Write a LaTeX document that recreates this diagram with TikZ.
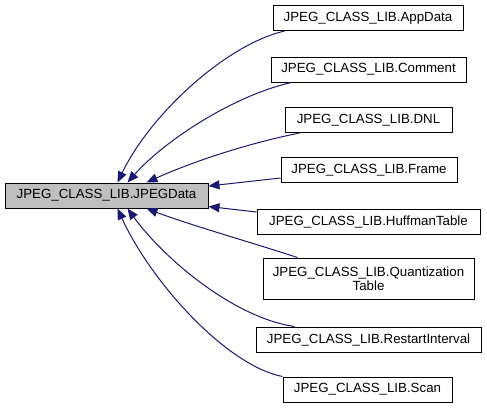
\documentclass[tikz,border=0pt]{standalone}
\usepackage{fontspec}
\setmainfont{Liberation Sans}
\usetikzlibrary{arrows.meta}
\definecolor{edgeblue}{RGB}{25,25,112}
\definecolor{mainfill}{RGB}{191,191,191}
\tikzset{
  classbox/.style={draw=black, line width=1pt, fill=white, inner sep=0pt, align=center,
    font=\fontsize{13.3}{16}\selectfont, minimum height=25pt},
  mainbox/.style={classbox, fill=mainfill},
  edge/.style={draw=edgeblue, line width=1pt, -{Triangle[length=11pt,width=9pt]}, fill=none},
}
\begin{document}
\begin{tikzpicture}[x=1pt,y=-1pt]
\useasboundingbox (0,0) rectangle (487,408);
\node[mainbox, minimum width=203pt] (main) at (106.5,195.5) {JPEG\_CLASS\_LIB.JPEGData};
\node[classbox, minimum width=190pt] (app) at (368,18) {JPEG\_CLASS\_LIB.AppData};
\node[classbox, minimum width=195pt] (com) at (368.5,69.5) {JPEG\_CLASS\_LIB.Comment};
\node[classbox, minimum width=167pt] (dnl) at (368.5,120) {JPEG\_CLASS\_LIB.DNL};
\node[classbox, minimum width=176pt] (frame) at (369,170) {JPEG\_CLASS\_LIB.Frame};
\node[classbox, minimum width=223pt] (huff) at (368.5,221.5) {JPEG\_CLASS\_LIB.HuffmanTable};
\node[classbox, minimum width=211pt, minimum height=41pt] (quant) at (368.5,278.5) {JPEG\_CLASS\_LIB.Quantization\\[-2pt]Table};
\node[classbox, minimum width=225pt] (rst) at (368.5,339.5) {JPEG\_CLASS\_LIB.RestartInterval};
\node[classbox, minimum width=169pt] (scan) at (367.5,389.5) {JPEG\_CLASS\_LIB.Scan};

\draw[edge] ([xshift=12pt]app.south west) .. controls (225,45) and (150,115) .. ([xshift=113pt]main.north west);
\draw[edge] ([xshift=21pt]com.south west) .. controls (235,95) and (165,140) .. ([xshift=123pt]main.north west);
\draw[edge] ([xshift=15pt]dnl.south west) .. controls (240,145) and (185,165) .. ([xshift=142pt]main.north west);
\draw[edge] ([yshift=-8pt]frame.west) -- ([yshift=9.5pt]main.east);
\draw[edge] ([yshift=9.5pt]huff.west) -- ([yshift=-11pt]main.east);
\draw[edge] ([xshift=35pt]quant.north west) .. controls (250,242) and (190,225) .. ([xshift=142pt]main.south west);
\draw[edge] ([xshift=39pt]rst.north west) .. controls (235,318) and (165,260) .. ([xshift=123pt]main.south west);
\draw[edge] (scan.north west) .. controls (225,365) and (150,280) .. ([xshift=113pt]main.south west);
\end{tikzpicture}
\end{document}
